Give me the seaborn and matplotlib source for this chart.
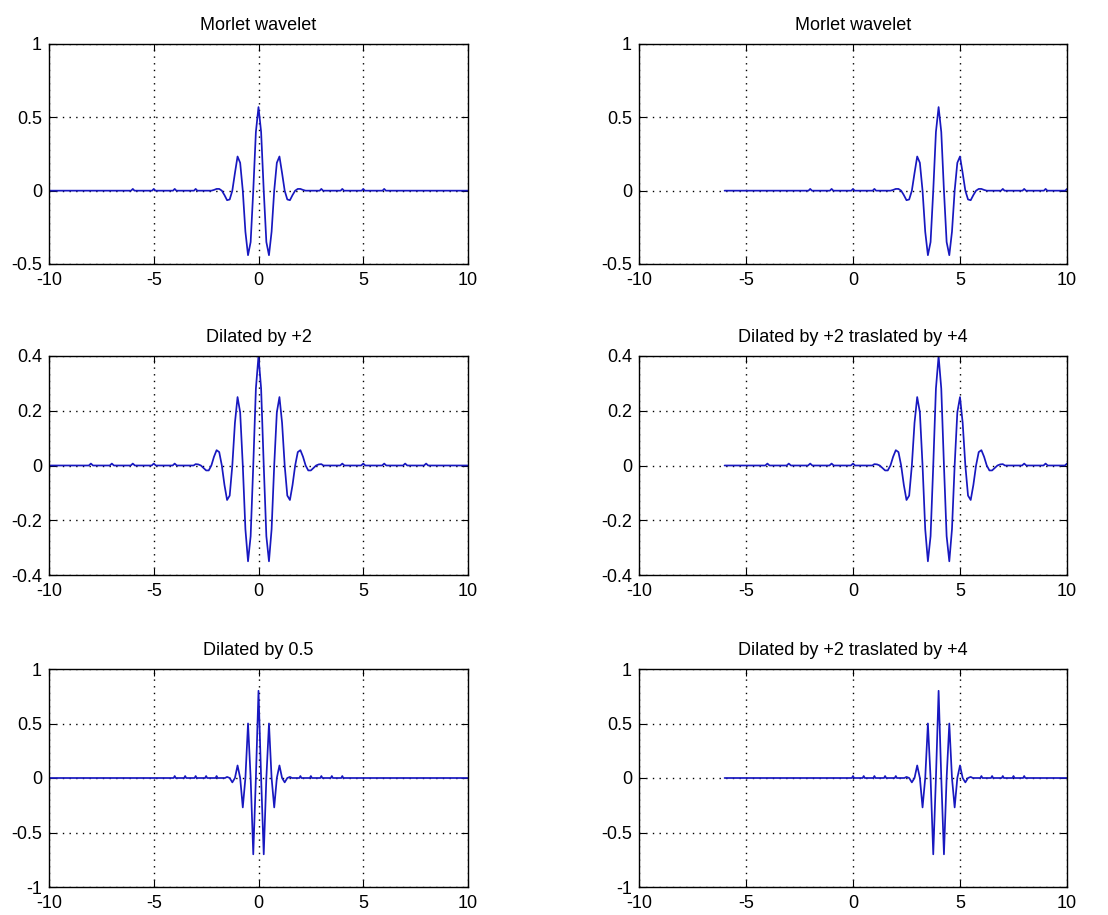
import matplotlib
matplotlib.use("Agg")
import matplotlib.pyplot as plt
import seaborn as sns

# ---------------- data ----------------
titles = ["Morlet wavelet", "Morlet wavelet",
          "Dilated by +2", "Dilated by +2 traslated by +4",
          "Dilated by 0.5", "Dilated by +2 traslated by +4"]

xticks = [-10, -5, 0, 5, 10]
yticks_morlet = [-0.5, 0, 0.5, 1]
yticks_dil2 = [-0.4, -0.2, 0, 0.2, 0.4]
yticks_dil05 = [-1, -0.5, 0, 0.5, 1]

translation = 4

# Morlet wavelet
x_morlet = [-10, -6.08, -6.0, -5.92, -5.08, -5.0, -4.92, -4.08, -4.0, -3.92,
            -3.08, -3.0, -2.92,
            -2.25, -2.125, -2.0, -1.875, -1.75, -1.625, -1.5, -1.375, -1.25,
            -1.125, -1.0, -0.875, -0.75, -0.625, -0.5, -0.375, -0.25, -0.125,
            0.0,
            0.125, 0.25, 0.375, 0.5, 0.625, 0.75, 0.875, 1.0, 1.125, 1.25,
            1.375, 1.5, 1.625, 1.75, 1.875, 2.0, 2.125, 2.25,
            2.92, 3.0, 3.08, 3.92, 4.0, 4.08, 4.92, 5.0, 5.08, 5.92, 6.0, 6.08, 10]
y_morlet = [0, 0, 0.012, 0, 0, 0.012, 0, 0, 0.012, 0,
            0, 0.012, 0,
            0, 0.005, 0.012, 0.012, 0, -0.03, -0.065, -0.06, 0,
            0.12, 0.233, 0.19, 0, -0.28, -0.44, -0.35, 0, 0.40,
            0.57,
            0.40, 0, -0.35, -0.44, -0.28, 0, 0.19, 0.233, 0.12, 0,
            -0.06, -0.065, -0.03, 0, 0.012, 0.012, 0.005, 0,
            0, 0.012, 0, 0, 0.012, 0, 0, 0.012, 0, 0, 0.012, 0, 0]

# Dilated by 2
x_dil2 = [-10, -8.1, -8.0, -7.9, -7.1, -7.0, -6.9, -6.1, -6.0, -5.9,
          -5.1, -5.0, -4.9, -4.1, -4.0, -3.9, -3.1,
          -3.0, -2.875, -2.75, -2.625, -2.5, -2.375, -2.25, -2.125, -2.0,
          -1.875, -1.75, -1.625, -1.5, -1.375, -1.25, -1.125, -1.0,
          -0.875, -0.75, -0.625, -0.5, -0.375, -0.25, -0.125, 0.0,
          0.125, 0.25, 0.375, 0.5, 0.625, 0.75, 0.875, 1.0,
          1.125, 1.25, 1.375, 1.5, 1.625, 1.75, 1.875, 2.0,
          2.125, 2.25, 2.375, 2.5, 2.625, 2.75, 2.875, 3.0,
          3.1, 3.9, 4.0, 4.1, 4.9, 5.0, 5.1, 5.9, 6.0, 6.1,
          6.9, 7.0, 7.1, 7.9, 8.0, 8.1, 10]
y_dil2 = [0, 0, 0.007, 0, 0, 0.007, 0, 0, 0.007, 0,
          0, 0.007, 0, 0, 0.007, 0, 0,
          0.005, 0.004, 0, -0.009, -0.018, -0.018, 0, 0.032, 0.056,
          0.049, 0, -0.071, -0.126, -0.110, 0, 0.156, 0.25,
          0.194, 0, -0.233, -0.35, -0.258, 0, 0.281, 0.40,
          0.281, 0, -0.258, -0.35, -0.233, 0, 0.194, 0.25,
          0.156, 0, -0.110, -0.126, -0.071, 0, 0.049, 0.056,
          0.032, 0, -0.018, -0.018, -0.009, 0, 0.004, 0.005,
          0, 0, 0.007, 0, 0, 0.007, 0, 0, 0.007, 0,
          0, 0.007, 0, 0, 0.007, 0, 0]

# Dilated by 0.5
x_dil05 = [-10, -4.05, -4.0, -3.95, -3.55, -3.5, -3.45, -3.05, -3.0, -2.95,
           -2.55, -2.5, -2.45, -2.05, -2.0, -1.95, -1.6,
           -1.5, -1.375, -1.25, -1.125, -1.0, -0.875, -0.75, -0.625, -0.5,
           -0.375, -0.25, -0.125, 0.0, 0.125, 0.25, 0.375, 0.5,
           0.625, 0.75, 0.875, 1.0, 1.125, 1.25, 1.375, 1.5,
           1.6, 1.95, 2.0, 2.05, 2.45, 2.5, 2.55, 2.95, 3.0, 3.05,
           3.45, 3.5, 3.55, 3.95, 4.0, 4.05, 10]
y_dil05 = [0, 0, 0.018, 0, 0, 0.018, 0, 0, 0.018, 0,
           0, 0.018, 0, 0, 0.018, 0, 0,
           0.01, 0, -0.04, 0, 0.115, 0, -0.27, 0, 0.50,
           0, -0.70, 0, 0.80, 0, -0.70, 0, 0.50,
           0, -0.27, 0, 0.115, 0, -0.04, 0, 0.01,
           0, 0, 0.018, 0, 0, 0.018, 0, 0, 0.018, 0,
           0, 0.018, 0, 0, 0.018, 0, 0]

# ---------------- styling ----------------
sns.set_theme(style="white")
plt.rcParams["font.family"] = ["Liberation Sans", "DejaVu Sans"]

fig = plt.figure(figsize=(11.08, 9.15), dpi=100)
W, H = 1108.0, 915.0

# axes boxes in pixels (left, top, right, bottom)
boxes = [(49, 44, 468, 264), (639, 44, 1067, 264),
         (49, 356, 468, 575), (639, 356, 1067, 575),
         (49, 669, 468, 887), (639, 669, 1067, 887)]

series = [(x_morlet, y_morlet, 0), (x_morlet, y_morlet, translation),
          (x_dil2, y_dil2, 0), (x_dil2, y_dil2, translation),
          (x_dil05, y_dil05, 0), (x_dil05, y_dil05, translation)]
yticks_list = [yticks_morlet, yticks_morlet, yticks_dil2, yticks_dil2,
               yticks_dil05, yticks_dil05]

line_color = "#1818c0"

for i, ((l, t, r, b), (xs, ys, sh), yt, title) in enumerate(
        zip(boxes, series, yticks_list, titles)):
    ax = fig.add_axes([l / W, 1 - b / H, (r - l) / W, (b - t) / H])
    ax.set_axisbelow(True)
    sns.lineplot(x=[v + sh for v in xs], y=ys, ax=ax, color=line_color,
                 lw=1.25, estimator=None, sort=False)
    ax.set_xlim(xticks[0], xticks[-1])
    ax.set_ylim(yt[0], yt[-1])
    ax.set_xticks(xticks)
    ax.set_yticks(yt)
    ax.set_xticklabels([f"{v:g}" for v in xticks])
    ax.set_yticklabels([f"{v:g}" for v in yt])
    ax.grid(True, color="black", linestyle=(0, (1, 3.8)), linewidth=1.0)
    for s in ax.spines.values():
        s.set_color("black")
        s.set_linewidth(1.0)
    ax.tick_params(direction="in", length=5, width=0.8, color="black",
                   labelsize=13, labelcolor="black",
                   top=True, right=True, bottom=True, left=True)
    ax.tick_params(axis="x", pad=6)
    ax.tick_params(axis="y", pad=5)
    ax.set_xlabel("")
    ax.set_ylabel("")
    ax.set_title(title, fontsize=13, color="black", pad=10)
    ax.set_facecolor("white")

fig.patch.set_facecolor("white")
fig.savefig("out.png", dpi=100, facecolor="white")
